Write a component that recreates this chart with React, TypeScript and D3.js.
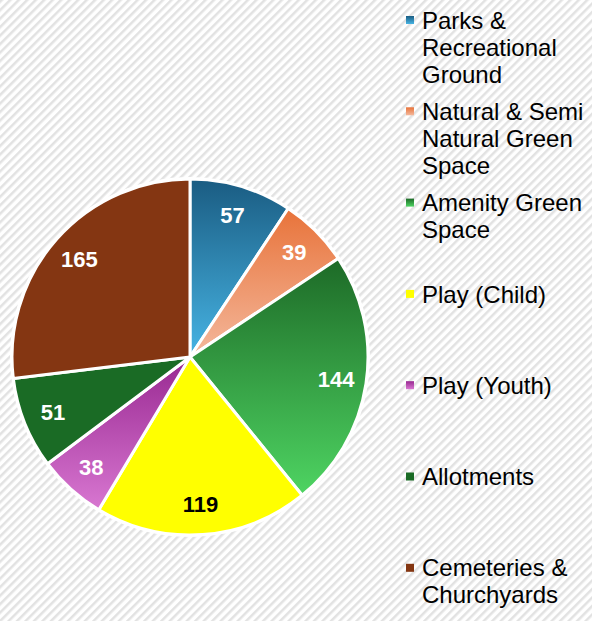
import { useEffect, useRef } from 'react'
import * as d3 from 'd3'

// Chart data
const categories = [
  ['Parks &', 'Recreational', 'Ground'],
  ['Natural & Semi', 'Natural Green', 'Space'],
  ['Amenity Green', 'Space'],
  ['Play (Child)'],
  ['Play (Youth)'],
  ['Allotments'],
  ['Cemeteries &', 'Churchyards'],
]
const values = [57, 39, 144, 119, 38, 51, 165]
// top / bottom colour of each slice (same colour = solid fill)
const topColors = ['#1a5c82', '#e8733a', '#1d6a27', '#ffff00', '#982891', '#1a6b25', '#843612']
const bottomColors = ['#47b4e4', '#f4b89c', '#4ed462', '#ffff00', '#d877d1', '#1a6b25', '#843612']
const labelColors = ['#fff', '#fff', '#fff', '#000', '#fff', '#fff', '#fff']

const W = 592
const H = 621

const App = () => {
  const svgRef = useRef<SVGSVGElement>(null)

  useEffect(() => {
    const svg = d3.select(svgRef.current)
    svg.selectAll('*').remove()

    const defs = svg.append('defs')

    // Hatched background
    const pattern = defs
      .append('pattern')
      .attr('id', 'hatch')
      .attr('patternUnits', 'userSpaceOnUse')
      .attr('width', 6)
      .attr('height', 6)
      .attr('patternTransform', 'rotate(45)')
    pattern.append('rect').attr('width', 6).attr('height', 6).attr('fill', '#fff')
    pattern
      .append('rect')
      .attr('width', 2.5)
      .attr('height', 6)
      .attr('fill', '#e2e2e2')
    svg.append('rect').attr('width', W).attr('height', H).attr('fill', 'url(#hatch)')

    // Slice gradients
    values.forEach((_, i) => {
      const g = defs
        .append('linearGradient')
        .attr('id', `grad-${i}`)
        .attr('x1', 0)
        .attr('y1', 0)
        .attr('x2', 0)
        .attr('y2', 1)
      g.append('stop').attr('offset', '0%').attr('stop-color', topColors[i])
      g.append('stop').attr('offset', '100%').attr('stop-color', bottomColors[i])
    })

    const cx = 190
    const cy = 357
    const radius = 178

    const pie = d3.pie<number>().sort(null).value((d) => d)
    const arcs = pie(values)
    const arc = d3.arc<d3.PieArcDatum<number>>().innerRadius(0).outerRadius(radius)
    const labelArc = d3
      .arc<d3.PieArcDatum<number>>()
      .innerRadius(radius * 0.83)
      .outerRadius(radius * 0.83)

    const chart = svg.append('g').attr('transform', `translate(${cx},${cy})`)

    // Outer white ring
    chart.append('circle').attr('r', radius + 2).attr('fill', '#fff')

    chart
      .selectAll('.slice')
      .data(arcs)
      .enter()
      .append('path')
      .attr('d', arc)
      .attr('fill', (d, i) => `url(#grad-${i})`)
      .attr('stroke', '#fff')
      .attr('stroke-width', 3)
      .attr('stroke-linejoin', 'round')

    chart
      .selectAll('.label')
      .data(arcs)
      .enter()
      .append('text')
      .attr('transform', (d) => `translate(${labelArc.centroid(d)})`)
      .attr('text-anchor', 'middle')
      .attr('dy', '0.36em')
      .style('font-family', '"Liberation Sans", Arial, sans-serif')
      .style('font-weight', 'bold')
      .style('font-size', '22px')
      .style('fill', (d, i) => labelColors[i])
      .text((d) => d.data)

    // Legend
    const legend = svg.append('g').attr('transform', 'translate(406, 20)')
    const slotY = d3.scaleLinear().domain([0, 1]).range([0, 91.3])
    const lineH = 27
    categories.forEach((lines, i) => {
      const item = legend.append('g').attr('transform', `translate(0, ${slotY(i)})`)
      item
        .append('rect')
        .attr('x', 0)
        .attr('y', -4)
        .attr('width', 8)
        .attr('height', 8)
        .attr('fill', `url(#grad-${i})`)
      lines.forEach((line, j) => {
        item
          .append('text')
          .attr('x', 16)
          .attr('y', j * lineH)
          .attr('dy', '0.36em')
          .style('font-family', '"Liberation Sans", Arial, sans-serif')
          .style('font-size', '24px')
          .style('fill', '#000')
          .text(line)
      })
    })
  }, [])

  return (
    <svg
      ref={svgRef}
      width={W}
      height={H}
      style={{ position: 'absolute', left: 0, top: 0 }}
    />
  )
}

export default App
